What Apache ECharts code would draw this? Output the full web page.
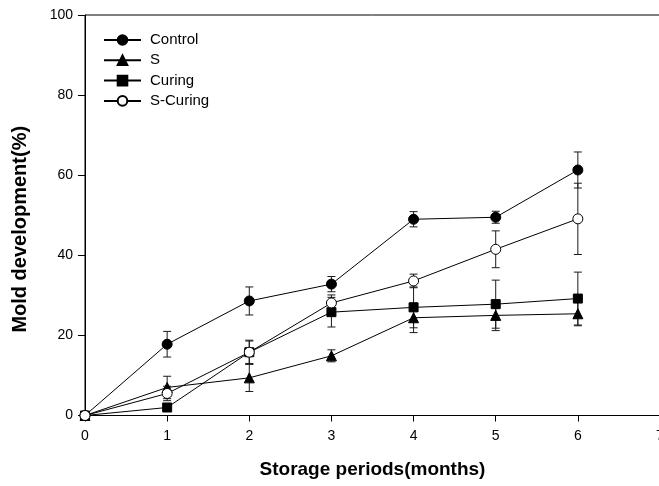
<!DOCTYPE html>
<html>
<head>
<meta charset="utf-8">
<title>Mold development during storage</title>
<script src="https://cdn.jsdelivr.net/npm/echarts@6/dist/echarts.min.js"></script>
<style>
  html, body { margin: 0; padding: 0; background: #fff; overflow: hidden; }
  #chart { width: 659px; height: 486px; }
</style>
</head>
<body>
<div id="chart"></div>
<script>
// Storage months on the x axis
const months = [0, 1, 2, 3, 4, 5, 6];

// Mean mold development (%) and standard error per treatment
const controlMean  = [0, 17.8, 28.6, 32.8, 49.0, 49.5, 61.3];
const controlErr   = [0, 3.2, 3.5, 1.9, 1.9, 1.5, 4.5];
const sMean        = [0, 7.0, 9.4, 14.9, 24.4, 25.0, 25.4];
const sErr         = [0, 2.8, 3.4, 1.5, 3.7, 3.8, 3.0];
const curingMean   = [0, 2.0, 15.8, 25.8, 27.0, 27.8, 29.2];
const curingErr    = [0, 0.5, 2.8, 3.7, 5.1, 6.0, 6.6];
const sCuringMean  = [0, 5.5, 15.8, 28.1, 33.6, 41.5, 49.1];
const sCuringErr   = [0, 1.8, 3.0, 2.0, 1.7, 4.6, 8.9];

const yTicks = [0, 20, 40, 60, 80, 100];
const xTicks = [0, 1, 2, 3, 4, 5, 6, 7];

const FONT = '"Liberation Sans", Arial, Helvetica, sans-serif';

function points(mean) {
  return months.map((m, i) => [m, mean[i]]);
}
function bars(mean, err) {
  return months.map((m, i) => [m, mean[i] - err[i], mean[i] + err[i]]);
}

// Vertical error bar with caps, placed through the axis scales
function renderErrorBar(params, api) {
  const x = api.value(0), lo = api.value(1), hi = api.value(2);
  if (!(hi > lo)) return null;
  const top = api.coord([x, hi]);
  const bot = api.coord([x, lo]);
  const hw = 4;
  const style = { stroke: '#1a1a1a', lineWidth: 1 };
  return {
    type: 'group',
    children: [
      { type: 'line', shape: { x1: top[0], y1: top[1], x2: bot[0], y2: bot[1] }, style },
      { type: 'line', shape: { x1: top[0] - hw, y1: top[1], x2: top[0] + hw, y2: top[1] }, style },
      { type: 'line', shape: { x1: bot[0] - hw, y1: bot[1], x2: bot[0] + hw, y2: bot[1] }, style }
    ]
  };
}

function errSeries(name, mean, err) {
  return {
    name: name + ' SE',
    type: 'custom',
    renderItem: renderErrorBar,
    data: bars(mean, err),
    encode: { x: 0, y: [1, 2] },
    z: 1,
    silent: true
  };
}

function lineSeries(name, mean, symbol, size, fill) {
  return {
    name: name,
    type: 'line',
    data: points(mean),
    symbol: symbol,
    symbolSize: size,
    showAllSymbol: true,
    lineStyle: { color: '#000', width: 1 },
    itemStyle: { color: fill, borderColor: '#000', borderWidth: 1 },
    emphasis: { disabled: true },
    z: 3
  };
}

const chart = echarts.init(document.getElementById('chart'), null, { renderer: 'canvas' });

chart.setOption({
  animation: false,
  backgroundColor: '#fff',
  textStyle: { fontFamily: FONT, color: '#000' },
  grid: {
    left: 85, top: 15, width: 575, height: 400.5,
    outerBoundsMode: 'none',
    containLabel: false,
    show: true, borderColor: '#000', borderWidth: 1, backgroundColor: 'transparent'
  },
  legend: {
    left: 103, top: 32, orient: 'vertical',
    padding: 0,
    itemWidth: 37, itemHeight: 12, itemGap: 4.3,
    textStyle: { fontFamily: FONT, fontSize: 15, color: '#000', lineHeight: 16, padding: [0, 0, 0, 4] },
    data: ['Control', 'S', 'Curing', 'S-Curing']
  },
  xAxis: {
    type: 'value', min: 0, max: 7, interval: 1,
    name: 'Storage periods(months)', nameLocation: 'middle', nameGap: 45,
    nameTextStyle: { fontFamily: FONT, fontSize: 19, fontWeight: 'bold', color: '#000' },
    axisLine: { lineStyle: { color: '#000', width: 1 } },
    axisTick: { length: 6, lineStyle: { color: '#000' } },
    axisLabel: {
      margin: 14, fontSize: 14, color: '#000', fontFamily: FONT,
      customValues: xTicks
    },
    splitLine: { show: false }
  },
  yAxis: {
    type: 'value', min: 0, max: 100, interval: 20,
    name: 'Mold development(%)', nameLocation: 'middle', nameGap: 55,
    nameTextStyle: { fontFamily: FONT, fontSize: 20, fontWeight: 'bold', color: '#000', padding: [0, 28, 0, 0] },
    axisLine: { lineStyle: { color: '#000', width: 1 } },
    axisTick: { length: 7, lineStyle: { color: '#000' } },
    axisLabel: { margin: 12, fontSize: 14, color: '#000', fontFamily: FONT, customValues: yTicks },
    splitLine: { show: false }
  },
  series: [
    errSeries('Control', controlMean, controlErr),
    errSeries('S', sMean, sErr),
    errSeries('Curing', curingMean, curingErr),
    errSeries('S-Curing', sCuringMean, sCuringErr),
    lineSeries('Control', controlMean, 'circle', 10, '#000'),
    lineSeries('S', sMean, 'triangle', 10, '#000'),
    lineSeries('Curing', curingMean, 'rect', 9, '#000'),
    lineSeries('S-Curing', sCuringMean, 'circle', 10, '#fff')
  ]
});
</script>
</body>
</html>
